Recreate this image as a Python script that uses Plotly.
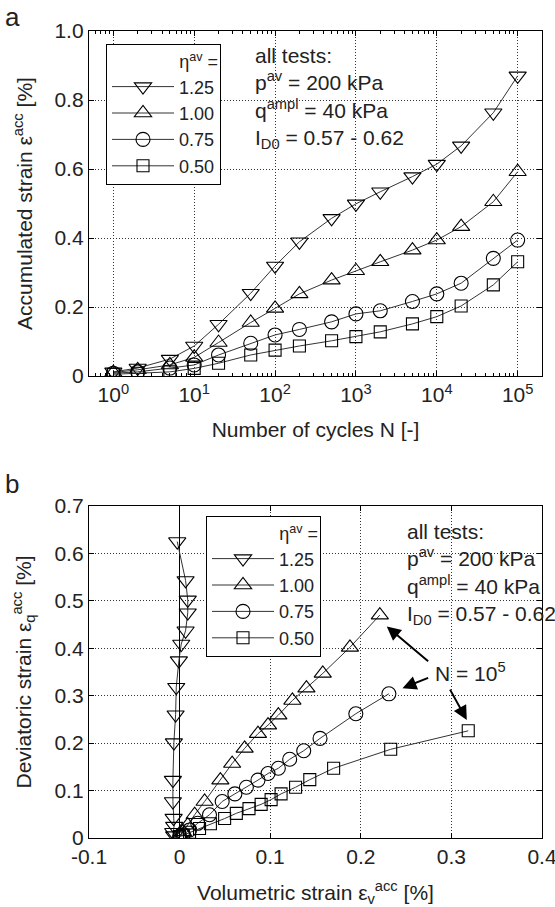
import plotly.graph_objects as go

# ---------------- data ----------------
N = [1, 2, 5, 10, 20, 50, 100, 200, 500, 1000, 2000, 5000, 10000, 20000, 50000, 100000]
eta_labels = ["1.25", "1.00", "0.75", "0.50"]

eps_125 = [0.012, 0.023, 0.049, 0.087, 0.150, 0.240, 0.319, 0.389, 0.457, 0.499, 0.534, 0.578, 0.614, 0.667, 0.763, 0.870]
eps_100 = [0.010, 0.018, 0.032, 0.054, 0.097, 0.155, 0.196, 0.238, 0.278, 0.305, 0.331, 0.365, 0.394, 0.433, 0.505, 0.592]
eps_075 = [0.008, 0.012, 0.023, 0.032, 0.061, 0.095, 0.119, 0.135, 0.157, 0.180, 0.189, 0.216, 0.238, 0.269, 0.341, 0.394]
eps_050 = [0.005, 0.008, 0.012, 0.022, 0.037, 0.061, 0.075, 0.087, 0.102, 0.114, 0.128, 0.151, 0.172, 0.203, 0.264, 0.331]

ev_125 = [-0.006, -0.007, -0.006, -0.0066, -0.0074, -0.0074, -0.0063, -0.0044, -0.0037, -0.0008, 0.0018, 0.0066, 0.009, 0.009, 0.0066, -0.0026]
eq_125 = [0.005, 0.012, 0.025, 0.042, 0.077, 0.122, 0.201, 0.260, 0.318, 0.374, 0.409, 0.437, 0.475, 0.502, 0.543, 0.625]
ev_100 = [0.001, 0.0037, 0.009, 0.0166, 0.0276, 0.045, 0.058, 0.0718, 0.0865, 0.0976, 0.109, 0.1245, 0.140, 0.158, 0.188, 0.221]
eq_100 = [0.005, 0.013, 0.027, 0.049, 0.077, 0.122, 0.157, 0.189, 0.220, 0.238, 0.259, 0.290, 0.316, 0.347, 0.402, 0.470]
ev_075 = [0.0, 0.004, 0.011, 0.020, 0.033, 0.047, 0.061, 0.0737, 0.0865, 0.0976, 0.109, 0.1215, 0.137, 0.155, 0.1945, 0.231]
eq_075 = [0.004, 0.007, 0.017, 0.031, 0.049, 0.077, 0.093, 0.107, 0.122, 0.136, 0.147, 0.166, 0.184, 0.210, 0.262, 0.304]
ev_050 = [0.0, 0.004, 0.011, 0.022, 0.034, 0.0497, 0.0626, 0.0766, 0.090, 0.101, 0.112, 0.128, 0.1437, 0.170, 0.233, 0.3186]
eq_050 = [0.003, 0.006, 0.012, 0.020, 0.030, 0.041, 0.052, 0.062, 0.071, 0.081, 0.093, 0.107, 0.123, 0.147, 0.187, 0.226]

top_xticks = [1, 10, 100, 1000, 10000, 100000]
top_xticktext = ["10<sup>0</sup>", "10<sup>1</sup>", "10<sup>2</sup>", "10<sup>3</sup>", "10<sup>4</sup>", "10<sup>5</sup>"]
top_xminor = [m * 10 ** d for d in range(-1, 6) for m in range(2, 10)]
top_yticks = [0, 0.2, 0.4, 0.6, 0.8, 1.0]
top_yticktext = ["0", "0.2", "0.4", "0.6", "0.8", "1.0"]
bot_xticks = [-0.1, 0, 0.1, 0.2, 0.3, 0.4]
bot_xticktext = ["-0.1", "0", "0.1", "0.2", "0.3", "0.4"]
bot_yticks = [0, 0.1, 0.2, 0.3, 0.4, 0.5, 0.6, 0.7]
bot_yticktext = ["0", "0.1", "0.2", "0.3", "0.4", "0.5", "0.6", "0.7"]

# ---------------- styling ----------------
FONT = "Liberation Sans, Arial, sans-serif"
FS = 21
LFS = 18
TXT = "#222"
symbols = ["triangle-down-open", "triangle-up-open", "circle-open", "square-open"]
sizes = [15, 15, 14, 12]

fig = go.Figure()

top_series = [eps_125, eps_100, eps_075, eps_050]
for lab, ys, sym, sz in zip(eta_labels, top_series, symbols, sizes):
    fig.add_trace(go.Scatter(
        x=N, y=ys, mode="lines+markers", name=lab, legend="legend",
        xaxis="x", yaxis="y",
        line=dict(color="#333", width=1),
        marker=dict(symbol=sym, size=sz, color="black", line=dict(width=1.1, color="black")),
    ))

bot_series = [(ev_125, eq_125), (ev_100, eq_100), (ev_075, eq_075), (ev_050, eq_050)]
for lab, (xs, ys), sym, sz in zip(eta_labels, bot_series, symbols, sizes):
    fig.add_trace(go.Scatter(
        x=xs, y=ys, mode="lines+markers", name=lab, legend="legend2",
        xaxis="x2", yaxis="y2",
        line=dict(color="#333", width=1),
        marker=dict(symbol=sym, size=sz, color="black", line=dict(width=1.1, color="black")),
    ))

W, H = 555, 907
axis_common = dict(
    automargin=False,
    showline=True, linecolor="black", linewidth=1.3, mirror="ticks",
    ticks="inside", ticklen=5, tickcolor="black", tickwidth=1,
    showgrid=True, gridcolor="#333", griddash="1px,2px", gridwidth=1,
    tickfont=dict(family=FONT, size=FS, color=TXT),
    title_font=dict(family=FONT, size=FS, color=TXT),
    zeroline=False, ticklabeloverflow="allow",
)

legend_common = dict(
    xanchor="left", yanchor="top",
    bordercolor="black", borderwidth=1, bgcolor="white",
    font=dict(family=FONT, size=LFS, color=TXT),
    title=dict(text="η<sup>av</sup> =", side="top right", font=dict(family=FONT, size=LFS, color=TXT)),
    tracegroupgap=0, itemwidth=62,
)

fig.update_layout(
    template="none",
    width=W, height=H,
    margin=dict(l=0, r=0, t=0, b=0, autoexpand=False),
    paper_bgcolor="white", plot_bgcolor="white",
    font=dict(family=FONT, size=FS, color=TXT),
    xaxis=dict(
        axis_common, type="log", domain=[89 / W, 542 / W],
        range=[-0.30103, 5.30103], anchor="y",
        tickvals=top_xticks, ticktext=top_xticktext,
        minor=dict(tickmode="array", tickvals=top_xminor, ticks="inside", ticklen=3,
                   tickcolor="black", showgrid=False),
        title=dict(text="Number of cycles N [-]", standoff=16),
    ),
    yaxis=dict(
        axis_common, domain=[(H - 376) / H, (H - 31) / H], range=[0, 1.0], anchor="x",
        tickvals=top_yticks, ticktext=top_yticktext,
        title=dict(text="Accumulated strain ε<sup>acc</sup> [%]", standoff=16),
    ),
    xaxis2=dict(
        axis_common, domain=[89 / W, 542 / W], range=[-0.1, 0.4], anchor="y2",
        tickvals=bot_xticks, ticktext=bot_xticktext,
        zeroline=True, zerolinecolor="black", zerolinewidth=1.2,
        title=dict(text="Volumetric strain ε<sub>v</sub><sup>acc</sup> [%]", standoff=17),
    ),
    yaxis2=dict(
        axis_common, domain=[(H - 838) / H, (H - 506) / H], range=[0, 0.7], anchor="x2",
        tickvals=bot_yticks, ticktext=bot_yticktext,
        title=dict(text="Deviatoric strain ε<sub>q</sub><sup>acc</sup> [%]", standoff=17),
    ),
    legend=dict(legend_common, x=106 / W, y=1 - 44 / H),
    legend2=dict(legend_common, x=206 / W, y=1 - 516 / H),
    showlegend=True,
)

info = "all tests:<br>p<sup>av</sup> = 200 kPa<br>q<sup>ampl</sup> = 40 kPa<br>I<sub>D0</sub> = 0.57 - 0.62"
fig.add_annotation(x=253 / W, y=1 - 42 / H, xref="paper", yref="paper", text=info,
                   showarrow=False, xanchor="left", yanchor="top", align="left",
                   font=dict(family=FONT, size=FS, color=TXT))
fig.add_annotation(x=405 / W, y=1 - 518 / H, xref="paper", yref="paper", text=info,
                   showarrow=False, xanchor="left", yanchor="top", align="left",
                   font=dict(family=FONT, size=FS, color=TXT))

# panel labels
fig.add_annotation(x=3 / W, y=1 - 0 / H, xref="paper", yref="paper", text="a",
                   showarrow=False, xanchor="left", yanchor="top",
                   font=dict(family=FONT, size=26, color=TXT))
fig.add_annotation(x=3 / W, y=1 - 467 / H, xref="paper", yref="paper", text="b",
                   showarrow=False, xanchor="left", yanchor="top",
                   font=dict(family=FONT, size=26, color=TXT))

# N = 10^5 label and arrows
fig.add_annotation(x=0.3216, y=0.350, xref="x2", yref="y2", text="N = 10<sup>5</sup>",
                   showarrow=False, font=dict(family=FONT, size=FS, color=TXT))
arrows = [((0.2287, 0.446), (0.276, 0.370)),
          ((0.246, 0.316), (0.276, 0.339)),
          ((0.317, 0.249), (0.2976, 0.316))]
for (hx, hy), (tx, ty) in arrows:
    fig.add_annotation(x=hx, y=hy, ax=tx, ay=ty, xref="x2", yref="y2", axref="x2", ayref="y2",
                       text="", showarrow=True, arrowhead=2, arrowsize=1.4, arrowwidth=2,
                       arrowcolor="black")

# remove the default page margin so the figure sits at the window's top-left corner
fig.write_html("out.html", config={"displayModeBar": False},
               post_script="document.body.style.margin='0';")
